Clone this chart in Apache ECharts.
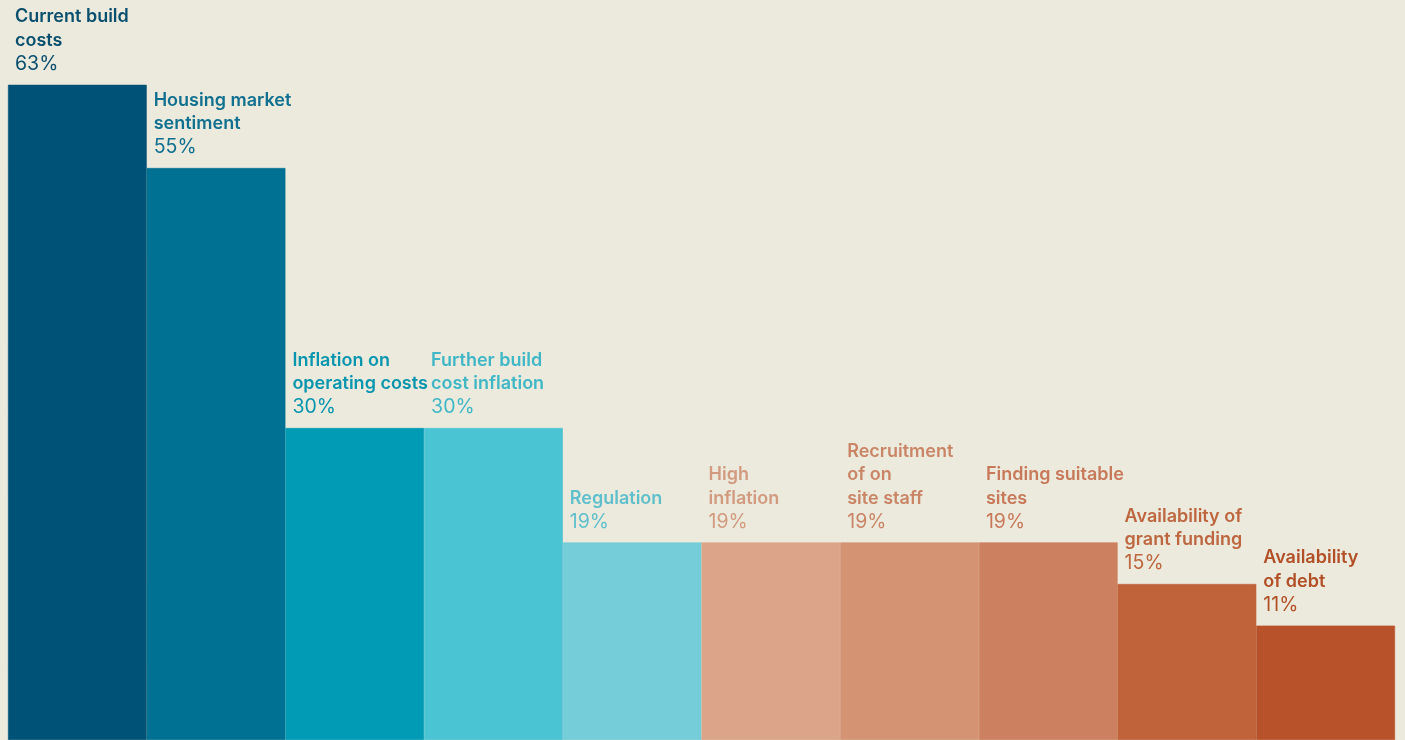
<!DOCTYPE html>
<html>
<head>
<meta charset="utf-8">
<script src="https://cdn.jsdelivr.net/npm/echarts@6/dist/echarts.min.js"></script>
<style>
  html, body { margin: 0; padding: 0; background: #ebeadd; }
  #chart { width: 1405px; height: 740px; }
</style>
</head>
<body>
<div id="chart"></div>
<script>
// Factors cited, share of respondents (%)
const categories = [
  'Current build\ncosts',
  'Housing market\nsentiment',
  'Inflation on\noperating costs',
  'Further build\ncost inflation',
  'Regulation',
  'High\ninflation',
  'Recruitment\nof on\nsite staff',
  'Finding suitable\nsites',
  'Availability of\ngrant funding',
  'Availability\nof debt'
];
const values = [63, 55, 30, 30, 19, 19, 19, 19, 15, 11];
const barColors = ['#005276', '#007192', '#019bb5', '#4ac3d3', '#74cdd8',
                   '#dca58a', '#d49474', '#cd805f', '#c0633a', '#b8522a'];
const labelColors = ['#0b4f6e', '#11708f', '#0895ae', '#3fb7c6', '#5fc0cc',
                     '#d29a7f', '#c98566', '#c8795a', '#bd663f', '#b24f26'];

const chart = echarts.init(document.getElementById('chart'), null, { renderer: 'canvas' });

chart.setOption({
  backgroundColor: '#ebeadd',
  animation: false,
  grid: { left: 8, right: 10, top: 12, bottom: 0 },
  xAxis: {
    type: 'category',
    data: categories,
    show: false
  },
  yAxis: {
    type: 'value',
    min: 0,
    max: 70,
    show: false
  },
  series: [{
    type: 'bar',
    barCategoryGap: 0,
    data: values.map((v, i) => ({
      value: v,
      itemStyle: { color: barColors[i], borderColor: barColors[i], borderWidth: 0.6 },
      label: {
        rich: {
          n: { fontFamily: 'Inter', fontSize: 18, fontWeight: 600, lineHeight: 23.5, color: labelColors[i] },
          v: { fontFamily: 'Inter', fontSize: 19.5, fontWeight: 400, lineHeight: 23.5, color: labelColors[i] }
        }
      }
    })),
    label: {
      show: true,
      position: [7, -9],
      align: 'left',
      verticalAlign: 'bottom',
      formatter: p => categories[p.dataIndex].split('\n').map(s => '{n|' + s + '}').join('\n') + '\n{v|' + p.value + '%}'
    }
  }]
});
</script>
</body>
</html>
